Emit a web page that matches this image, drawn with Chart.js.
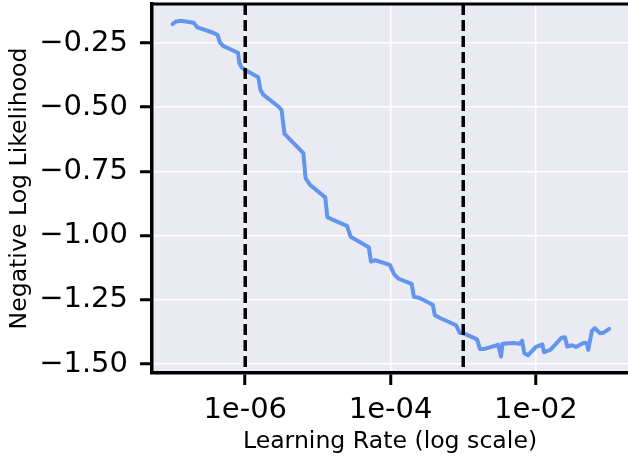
<!DOCTYPE html>
<html>
<head>
<meta charset="utf-8">
<script src="https://cdn.jsdelivr.net/npm/chart.js@4"></script>
<style>
  html, body { margin: 0; padding: 0; background: #ffffff; }
  #lrChart { display: block; }
</style>
</head>
<body>
<canvas id="lrChart" width="628" height="461"></canvas>
<script>
// Learning-rate finder curve
const learningRates = [
  1.00e-7, 1.10e-7, 1.29e-7, 1.95e-7, 2.19e-7, 3.63e-7, 4.17e-7, 4.47e-7, 5.01e-7, 7.94e-7,
  8.32e-7, 8.91e-7, 1.00e-6, 1.51e-6, 1.62e-6, 1.78e-6, 2.88e-6, 3.16e-6, 3.47e-6, 6.31e-6,
  6.76e-6, 7.76e-6, 1.26e-5, 1.35e-5, 1.62e-5, 2.51e-5, 2.82e-5, 5.01e-5, 5.37e-5, 6.17e-5,
  9.77e-5, 1.12e-4, 1.29e-4, 1.95e-4, 2.09e-4, 2.51e-4, 3.80e-4, 4.07e-4, 4.79e-4, 7.94e-4,
  8.91e-4, 1.00e-3, 1.55e-3, 1.70e-3, 1.91e-3, 2.75e-3, 3.02e-3, 3.31e-3, 3.47e-3, 4.90e-3,
  6.03e-3, 6.46e-3, 6.92e-3, 7.76e-3, 1.00e-2, 1.23e-2, 1.29e-2, 1.58e-2, 1.95e-2, 2.24e-2,
  2.51e-2, 2.69e-2, 3.16e-2, 3.55e-2, 4.57e-2, 5.01e-2, 5.25e-2, 5.89e-2, 6.46e-2, 7.59e-2,
  8.51e-2, 1.02e-1
];
const nllValues = [
  -0.176, -0.167, -0.163, -0.171, -0.189, -0.210, -0.219, -0.247, -0.262, -0.288,
  -0.329, -0.345, -0.355, -0.383, -0.433, -0.452, -0.498, -0.511, -0.604, -0.679,
  -0.776, -0.802, -0.851, -0.928, -0.939, -0.962, -1.004, -1.045, -1.101, -1.096,
  -1.114, -1.151, -1.168, -1.188, -1.238, -1.243, -1.269, -1.310, -1.321, -1.349,
  -1.378, -1.380, -1.404, -1.442, -1.442, -1.429, -1.425, -1.471, -1.421, -1.418,
  -1.421, -1.409, -1.458, -1.466, -1.433, -1.424, -1.454, -1.445, -1.417, -1.398,
  -1.396, -1.432, -1.427, -1.434, -1.417, -1.419, -1.445, -1.371, -1.360, -1.380,
  -1.378, -1.363
];
// suggested bounds shown as dashed verticals
const markerRates = [1e-6, 1e-3];

const xTickValues = [1e-6, 1e-4, 1e-2];
const xTickLabels = ['1e-06', '1e-04', '1e-02'];
const yTickValues = [-1.5, -1.25, -1.0, -0.75, -0.5, -0.25];
const yTickLabels = ['\u22121.50', '\u22121.25', '\u22121.00', '\u22120.75', '\u22120.50', '\u22120.25'];

const FONT = 'DejaVu Sans';

// seaborn-style plot background + top spine + dashed markers
const decorPlugin = {
    id: 'decor',
    beforeDraw(chart) {
        const {ctx, chartArea: a} = chart;
        ctx.save();
        ctx.fillStyle = '#eaeaf2';
        ctx.fillRect(a.left, a.top, a.right - a.left, a.bottom - a.top);
        ctx.restore();
    },
    afterDatasetsDraw(chart) {
        const {ctx, chartArea: a, scales} = chart;
        ctx.save();
        ctx.strokeStyle = '#000000';
        ctx.lineWidth = 3.5;
        ctx.setLineDash([11, 5]);
        markerRates.forEach(lr => {
            const px = scales.x.getPixelForValue(lr);
            ctx.beginPath();
            ctx.moveTo(px, a.top);
            ctx.lineTo(px, a.bottom);
            ctx.stroke();
        });
        ctx.setLineDash([]);
        ctx.lineWidth = 3;
        ctx.beginPath();
        ctx.moveTo(a.left - 1.5, a.top);
        ctx.lineTo(a.right, a.top);
        ctx.stroke();
        ctx.restore();
    }
};

const ctx = document.getElementById('lrChart').getContext('2d');
new Chart(ctx, {
    type: 'line',
    data: {
        datasets: [{
            data: learningRates.map((lr, i) => ({x: lr, y: nllValues[i]})),
            borderColor: '#6495ed',
            borderWidth: 4,
            borderCapStyle: 'round',
            borderJoinStyle: 'round',
            pointRadius: 0,
            tension: 0,
            fill: false
        }]
    },
    options: {
        responsive: false,
        animation: false,
        devicePixelRatio: 1,
        layout: { padding: { top: 4, right: 0, left: 0, bottom: 0 } },
        plugins: {
            legend: { display: false },
            tooltip: { enabled: false }
        },
        scales: {
            x: {
                type: 'logarithmic',
                min: 5.21e-8,
                max: 0.185,
                afterBuildTicks: scale => {
                    scale.ticks = xTickValues.map(v => ({value: v}));
                },
                afterFit: scale => {
                    scale.height = 88;
                    scale.paddingLeft = 0;
                    scale.paddingRight = 0;
                },
                ticks: {
                    autoSkip: false,
                    maxRotation: 0,
                    padding: 8,
                    color: '#000000',
                    font: { family: FONT, size: 29 },
                    callback: (value, index) => xTickLabels[index]
                },
                grid: {
                    color: '#ffffff',
                    lineWidth: 1.5,
                    tickColor: '#000000',
                    tickLength: 12,
                    tickWidth: 3
                },
                border: { color: '#000000', width: 3.5 },
                title: {
                    display: true,
                    text: 'Learning Rate (log scale)',
                    color: '#000000',
                    font: { family: FONT, size: 23.6 },
                    padding: { top: 0, bottom: 5 }
                }
            },
            y: {
                type: 'linear',
                min: -1.535,
                max: -0.098,
                afterBuildTicks: scale => {
                    scale.ticks = yTickValues.map(v => ({value: v}));
                },
                afterFit: scale => {
                    scale.width = 152;
                    scale.paddingTop = 0;
                    scale.paddingBottom = 0;
                },
                ticks: {
                    autoSkip: false,
                    padding: 12,
                    color: '#000000',
                    font: { family: FONT, size: 29 },
                    callback: (value, index) => yTickLabels[index]
                },
                grid: {
                    color: '#ffffff',
                    lineWidth: 1.5,
                    tickColor: '#000000',
                    tickLength: 12,
                    tickWidth: 3
                },
                border: { color: '#000000', width: 3.5 },
                title: {
                    display: true,
                    text: 'Negative Log Likelihood',
                    color: '#000000',
                    font: { family: FONT, size: 23.6 },
                    padding: { top: 6, bottom: 0 }
                }
            }
        }
    },
    plugins: [decorPlugin]
});
</script>
</body>
</html>
